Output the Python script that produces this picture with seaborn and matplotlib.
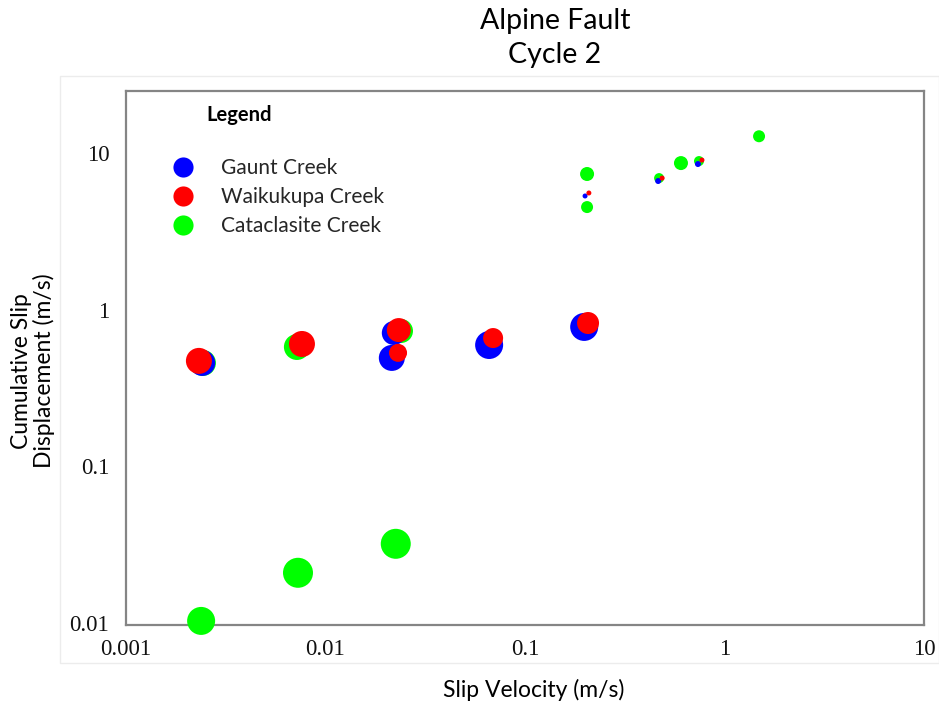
import numpy as np
import pandas as pd
import matplotlib
matplotlib.use("Agg")
import matplotlib.pyplot as plt
from matplotlib.lines import Line2D
from matplotlib.patches import Rectangle
import seaborn as sns

# ---------------- data ----------------
series_names = ["Gaunt Creek", "Waikukupa Creek", "Cataclasite Creek"]

gaunt_x = [0.00241, 0.0220, 0.0215, 0.0661, 0.198, 0.200, 0.465, 0.736]
gaunt_y = [0.457, 0.710, 0.492, 0.595, 0.776, 5.32, 6.63, 8.51]
gaunt_size = [13, 12, 13, 14, 14, 2.5, 3, 3]

waik_x = [0.00232, 0.00762, 0.0233, 0.0231, 0.0692, 0.207, 0.209, 0.487, 0.771]
waik_y = [0.471, 0.604, 0.741, 0.530, 0.659, 0.822, 5.56, 6.92, 9.02]
waik_size = [13, 13, 12, 9, 10, 11, 2.5, 2.5, 2.5]

cata_x = [0.00238, 0.00728, 0.0225, 0.00243, 0.00719, 0.0239, 0.2047, 0.2047,
          0.470, 0.605, 0.745, 1.49]
cata_y = [0.0103, 0.0209, 0.032, 0.457, 0.578, 0.731, 7.35, 4.52,
          6.92, 8.63, 8.89, 12.8]
cata_size = [14, 15, 15, 13, 13, 12, 7, 6, 5, 7, 5, 6]

x_ticks = [0.001, 0.01, 0.1, 1, 10]
x_tick_labels = ["0.001", "0.01", "0.1", "1", "10"]
y_ticks = [0.01, 0.1, 1, 10]
y_tick_labels = ["0.01", "0.1", "1", "10"]

# drawing order: green underneath, then blue, then red on top
frames = []
for name, xs, ys, ss in [("Cataclasite Creek", cata_x, cata_y, cata_size),
                         ("Gaunt Creek", gaunt_x, gaunt_y, gaunt_size),
                         ("Waikukupa Creek", waik_x, waik_y, waik_size)]:
    frames.append(pd.DataFrame({"x": xs, "y": ys, "series": name, "r": ss}))
df = pd.concat(frames, ignore_index=True)
# bubble radius (px at 100 dpi) -> marker area in pt^2
df["area"] = (2 * df["r"] * 0.72) ** 2

palette = {"Gaunt Creek": "#0000FF", "Waikukupa Creek": "#FF0000",
           "Cataclasite Creek": "#00FF00"}

# ---------------- figure ----------------
sns.set_theme(style="white")
plt.rcParams["font.family"] = ["Lato", "DejaVu Sans"]

W, H = 939, 704
fig = plt.figure(figsize=(W / 100, H / 100), dpi=100)
fig.patch.set_facecolor("white")

# faint chart-area frame
fig.patches.append(Rectangle((60 / W, 1 - 663 / H), (W - 60) / W, (663 - 76) / H,
                             transform=fig.transFigure, facecolor="none",
                             edgecolor="#ececec", linewidth=1, zorder=-1))

L, R, T, B = 126, 924, 91, 625
ax = fig.add_axes([L / W, 1 - B / H, (R - L) / W, (B - T) / H])
ax.set_facecolor("white")

amin, amax = df["area"].min(), df["area"].max()
sns.scatterplot(data=df, x="x", y="y", hue="series", palette=palette,
                size="area", sizes=(amin, amax), size_norm=(amin, amax),
                linewidth=0, legend=False, ax=ax, clip_on=False, zorder=3)

ax.set_xscale("log")
ax.set_yscale("log")
ax.set_xlim(0.001, 10)
ax.set_ylim(0.0097, 24.9)
ax.set_xticks(x_ticks)
ax.set_xticklabels(x_tick_labels)
ax.set_yticks(y_ticks)
ax.set_yticklabels(y_tick_labels)
ax.minorticks_off()
ax.tick_params(axis="both", length=0, colors="#111111", labelsize=16.5)
ax.tick_params(axis="y", pad=12)
ax.tick_params(axis="x", pad=10)
for lab in ax.get_xticklabels() + ax.get_yticklabels():
    lab.set_family(["Liberation Serif", "DejaVu Serif"])
ax.set_xlabel("")
ax.set_ylabel("")
for sp in ax.spines.values():
    sp.set_color("#858585")
    sp.set_linewidth(1.6)
ax.grid(False)

# titles and axis labels
fig.text(555 / W, 1 - 21 / H, "Alpine Fault", ha="center", va="center",
         fontsize=20.5, color="black")
fig.text(555 / W, 1 - 55 / H, "Cycle 2", ha="center", va="center",
         fontsize=20.5, color="black")
fig.text(534 / W, 1 - 690 / H, "Slip Velocity (m/s)", ha="center", va="center",
         fontsize=16.5, color="black")
fig.text(33 / W, 1 - 371 / H, "Cumulative Slip\nDisplacement (m/s)",
         ha="center", va="center", rotation=90, multialignment="center",
         fontsize=16.5, color="black", linespacing=1.1)

# legend
fig.text(206 / W, 1 - 115 / H, "Legend", ha="left", va="center",
         fontsize=14.5, fontweight="bold", color="black")
handles = [Line2D([0], [0], marker="o", linestyle="", markersize=14.5,
                  markerfacecolor=palette[n], markeredgewidth=0)
           for n in series_names]
ax.legend(handles, series_names, loc="upper left",
          bbox_to_anchor=((173 - L) / (R - L), (B - 158) / (B - T)),
          frameon=False, fontsize=15, handlelength=0.95, handletextpad=1.35,
          labelspacing=0.44, borderpad=0, borderaxespad=0)

fig.savefig("out.png", dpi=100)
